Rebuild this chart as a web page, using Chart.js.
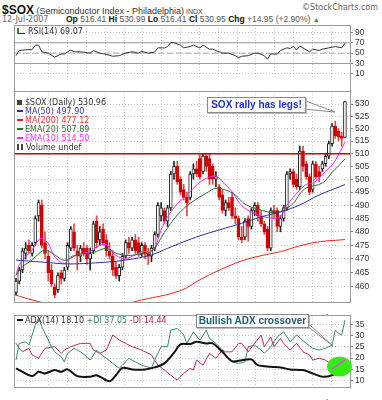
<!DOCTYPE html>
<html>
<head>
<meta charset="utf-8">
<script src="https://cdn.jsdelivr.net/npm/chart.js@4.4.1/dist/chart.umd.min.js"></script>
<style>
html,body{margin:0;padding:0;background:#fff;}
body{width:382px;height:400px;position:relative;overflow:hidden;font-family:"Liberation Sans",Arial,sans-serif;color:#222;}
canvas{position:absolute;left:0;}
.frame{position:absolute;left:14px;width:337px;border:1px solid #9a9a9a;box-sizing:border-box;pointer-events:none;}
.t{position:absolute;white-space:nowrap;}
.lg{position:absolute;font:8px "DejaVu Sans",sans-serif;line-height:9px;white-space:nowrap;}
.sw{display:inline-block;width:6px;height:2px;vertical-align:middle;margin-right:2px;position:relative;top:-1px;}
.box{position:absolute;background:#fff;border:1px solid #8a8a8a;box-shadow:1px 1px 0 #bbb;font:bold 10px "Liberation Sans",Arial,sans-serif;white-space:nowrap;text-align:center;}
</style>
</head>
<body>
<!-- header -->
<div class="t" style="left:2px;top:0px;"><span style="font:bold 12px 'Liberation Sans',Arial;color:#111">$SOX</span><span style="font:9px 'Liberation Sans',Arial;color:#333"> (Semiconductor Index - Philadelphia)</span><span style="font:7px 'Liberation Sans',Arial;color:#444"> INDX</span></div>
<div class="t" style="right:4px;top:3px;font:8px 'DejaVu Sans',sans-serif;color:#666">©StockCharts.com</div>
<div class="t" style="left:2px;top:15px;font:8px 'DejaVu Sans',sans-serif;color:#666">12-Jul-2007</div>
<div class="t" style="left:66px;top:14px;font:8.5px 'Liberation Sans',Arial;color:#555"><b style="color:#111">Op</b> 516.41 <b style="color:#111">Hi</b> 530.99 <b style="color:#111">Lo</b> 516.41 <b style="color:#111">Cl</b> 530.95 <b style="color:#111">Chg</b> +14.95 (+2.90%) <span style="color:#2a9a2a;font-size:7px">▲</span></div>

<canvas id="rsi" width="382" height="66" style="top:25px"></canvas>
<canvas id="price" width="382" height="224" style="top:91px"></canvas>
<canvas id="adx" width="382" height="85" style="top:315px"></canvas>

<div class="frame" style="top:25px;height:67px"></div>
<div class="frame" style="top:91px;height:212px"></div>
<div class="frame" style="top:315px;height:73px"></div>

<!-- legends -->
<div class="lg" style="left:17px;top:27px;color:#333"><span style="display:inline-block;width:6px;height:5px;border-left:2px solid #2a8a2a;border-bottom:1px solid #333;margin-right:3px"></span>RSI(14) 69.07</div>
<div class="lg" style="left:17px;top:98px">
  <div style="color:#333"><span style="display:inline-block;width:5px;height:5px;background:#444;margin-right:3px"></span>$SOX (Daily) 530.96</div>
  <div style="color:#3a3aa0"><span class="sw" style="background:#2e2e9a"></span>MA(50) 497.90</div>
  <div style="color:#ee3333"><span class="sw" style="background:#ee2222"></span>MA(200) 477.12</div>
  <div style="color:#2f6f35"><span class="sw" style="background:#2f6f35"></span>EMA(20) 507.89</div>
  <div style="color:#ff33ff"><span class="sw" style="background:#ff22ff"></span>EMA(10) 514.50</div>
  <div style="color:#333"><span style="display:inline-block;width:6px;height:6px;border-left:2px solid #444;border-right:2px solid #444;box-sizing:border-box;margin-right:3px"></span>Volume undef</div>
</div>
<div class="lg" style="left:17px;top:316px"><span class="sw" style="background:#111;height:2px"></span><span style="color:#333">ADX(14) 18.10 </span><span style="color:#2f8a55">+DI 37.05 </span><span style="color:#b0204a">-DI 14.44</span></div>

<!-- annotations -->
<svg width="382" height="400" style="position:absolute;left:0;top:0;pointer-events:none">
  <polygon points="298,98 335,112 303,109" fill="#fff" stroke="#8a8a8a" stroke-width="1"/>
  <polygon points="300,316 333,346 306,325" fill="#fff" stroke="#8a8a8a" stroke-width="1"/>
  <ellipse cx="339.5" cy="366.5" rx="12.5" ry="10" fill="#33ee11"/>
  <line x1="332" y1="369" x2="345" y2="360" stroke="#ff33ff" stroke-width="1.5"/>
</svg>
<div class="box" style="left:207px;top:97px;width:97px;height:14px;line-height:14px;color:#1c2fd0">SOX rally has legs!</div>
<div class="box" style="left:196px;top:314px;width:111px;height:12px;line-height:12px;color:#1d5e72">Bullish ADX crossover</div>

<script>
// ---------- data ----------
const monthIdx    = [10, 32, 52, 74, 95];
const monthLabels = ['Mar', 'Apr', 'May', 'Jun', 'Jul'];

const opens  = [458,462,466,472,475,472,476,486,490,476, 471,466,460,459,465,463,467,474,480,473,
                471,474,474,470,473,484,477,481,477,473, 471,467,464,467,471,476,474,477,476,472,
                475,472,471,474,479,486,488,484,489,502, 505,500,496,493,493,502,504,508,503,509,
                508,505,500,497,494,488,491,493,486,485, 478,478,485,482,488,490,486,483,481,474,
                488,488,482,485,489,502,503,500,497,511, 506,501,496,506,503,504,506,509,514,521,
                519,517,516.41];
const highs  = [463,467,474,476,477,476,486,492,492,480, 473,468,461,465,466,467,476,482,483,475,
                475,476,475,474,484,486,482,483,479,476, 473,469,468,472,477,478,478,479,478,476,
                476,474,475,480,491,491,489,490,503,507, 507,501,498,495,503,506,507,510,510,510,
                510,506,503,498,496,492,493,495,489,486, 482,485,486,489,491,491,488,484,482,489,
                490,489,486,490,503,504,504,502,513,513, 507,502,507,507,505,507,510,515,522,523,
                520,518.5,530.99];
const lows   = [457,461,465,470,472,471,475,484,474,470, 462,460,456,458,461,462,466,473,473,466,
                469,471,468,466,472,474,475,475,471,470, 464,463,462,466,470,472,473,472,471,471,
                470,468,469,473,478,484,483,482,488,500, 498,494,492,486,492,500,501,500,502,503,
                498,498,497,492,487,486,488,485,483,477, 476,477,476.5,481,486,484,482,479,473,473,
                485,480,480,484,488,500,497,496,496,503, 500,494,495,500,499,503,505,508,513,516,
                515,513,516.41];
const closes = [462,466,473,474,473,475,485,491,475,472, 465,461,457,464,463,466,475,481,474,471,
                474,472,470,472,483,476,480,476,473,471, 466,464,467,471,476,474,477,473,472,475,
                472,471,474,479,490,489,484,489,502,505, 499,495,493,491,502,504,502,501,509,505,
                500,500,501,493,488,491,489,486,485,478, 477,484,482,488,490,486,483,480,474,488,
                487,482,485,489,502,503,498,497,511,505, 501,495,506,501,501,506,509,514,521,517,
                516.5,516,530.95];

const levelLine = 510;

const ma200Idx = [0, 5, 11, 20, 30, 39, 51, 57, 63, 70, 76, 82, 88, 94, 102];
const ma200Val = [457, 455.3, 453.8, 452.6, 453, 455.3, 458.6, 462.5, 465.9, 469.3, 471.2, 472.7, 474.8, 476.3, 477.12];

const ma50Idx = [0, 10, 16, 26, 34, 42, 47, 52, 57, 63, 70, 76, 82, 88, 94, 102];
const ma50Val = [469.6, 468.7, 468.2, 468.7, 469.6, 471.5, 473.9, 476.3, 478.5, 480.7, 483.2, 485.6, 487.5, 490.1, 493.9, 497.9];

const ema20Idx = [0, 2, 5, 6, 9, 12, 15, 19, 24, 28, 31, 34, 37, 42, 46, 50, 54, 59, 62, 65, 68, 71, 75, 78, 81, 83, 86, 88, 90, 95, 98, 102];
const ema20Val = [464.2, 467.2, 469.6, 470.8, 473.3, 471.5, 469.5, 471.5, 472.4, 473.9, 472.1, 471.3, 471.5, 472.8, 479.7, 486.3, 490.7, 494.6, 496.5, 495.8, 493.9, 490.4, 488.5, 487.5, 487.2, 488.2, 490.7, 494.3, 496.6, 498.5, 502.6, 507.89];

const ema10Idx = [0, 1, 3, 5, 7, 8, 10, 12, 15, 17, 19, 21, 23, 25, 28, 29, 31, 34, 37, 39, 41, 43, 45, 47, 50, 53, 56, 59, 62, 64, 67, 69, 71, 74, 77, 80, 82, 84, 88, 90, 92, 94, 96, 98, 100, 102];
const ema10Val = [464, 467.8, 470.8, 473.3, 477.0, 477.6, 475.7, 470.8, 468.4, 470.8, 471.5, 472.1, 472.7, 474.5, 475.4, 473.9, 471.3, 470.2, 471.5, 472.7, 472.7, 473.9, 480.7, 485.6, 490.5, 493.9, 497.7, 500.3, 501.2, 499.0, 495.2, 491.3, 488.8, 486.9, 485.6, 485.1, 485.6, 490.0, 495.8, 498.0, 498.4, 500.4, 503.0, 505.5, 509.5, 514.5];

const rsiIdx = [0,1,3,5,6,7,8,10,12,13,14,15,16,17,18,20,21,23,24,26,28,30,32,34,36,38,39,41,43,44,46,47,48,49,51,52,54,55,57,58,60,61,63,64,66,68,69,70,72,74,75,77,78,79,81,82,84,85,86,87,88,91,92,94,95,97,99,101,102];
const rsiVal = [45,55,56.6,56.6,65.3,65.3,52.6,50,42.3,45,48.5,48,52.6,56,52.6,52.6,52,50,55,50,47.4,44,45,50,52.6,50,53.6,50,52,60.2,60,62.7,70.4,70,65.3,60.2,62.7,65.3,60.2,65.3,57.6,57.6,52.6,50,50,45,41.3,44,45,50,50,45,38.3,48.5,48,55,60.2,59,62.7,56,63.6,52.6,57.6,55,57.6,60.2,62.7,60.2,69.07];
const rsiLevels = [70, 50, 30];

const adxIdx = [0,1,5,7,9,12,14,16,19,23,25,29,31,33,36,40,43,46,49,51,54,56,59,61,64,67,70,73,75,79,82,85,89,92,95,98,100,102];
const adxVal = [15.4,14.6,11.9,13.8,13.1,14.6,13.8,14.9,11.9,11.6,12.3,9.6,12.3,15.6,14.9,14.9,15.8,17.6,22.4,26.2,26.3,27.3,26.6,26.6,22.8,18.6,19.0,19.4,16.8,16.1,15.8,14.9,14.6,13.1,11.6,12.3,14.1,18.1];

const pdiIdx = [0,1,3,4,6,7,8,11,12,14,15,16,18,20,22,23,25,26,28,30,32,33,35,37,39,42,43,45,47,48,50,52,53,55,57,59,60,62,64,65,67,69,71,72,74,76,77,79,81,83,85,87,90,92,94,96,98,99,100,101,102];
const pdiVal = [19.1,26.6,27.3,25.8,34.9,37.9,34.1,25.1,22.8,20.6,18.3,22.1,24.4,22.8,20.6,19.1,23.6,22.1,19.9,17.6,15.4,16.8,19.9,18.3,16.8,15.4,19.1,25.1,25.1,32.6,33.3,30.4,26.6,31.8,28.0,32.6,28.8,26.6,23.6,21.4,18.3,17.6,18.3,25.1,25.8,23.6,22.1,25.1,29.5,31.8,27.3,30.4,26.6,24.4,23.6,24.4,25.8,32.6,31.1,30.4,37.05];

const mdiIdx = [0,1,2,4,5,7,9,12,14,15,17,20,23,24,26,28,30,32,34,36,39,42,44,46,48,50,52,54,55,56,58,60,62,64,65,67,69,70,72,74,76,77,79,80,82,83,85,87,89,91,92,94,96,98,100,102];
const mdiVal = [26.6,24.4,22.8,24.4,21.4,19.9,24.4,25.1,22.1,23.6,25.1,26.6,26.6,23.6,22.1,23.6,30.4,28.1,26.6,25.1,23.6,21.4,16.8,14.6,12.3,10.1,13.1,15.4,14.6,19.1,16.8,22.1,19.9,23.6,22.8,22.8,26.6,26.6,22.8,26.6,30.4,25.1,29.5,25.1,28.8,26.6,23.6,26.6,22.8,21.4,19.1,19.9,19.1,16.8,17.6,14.44];

// ---------- layout / style ----------
const X_MIN = -0.62, X_MAX = 103.57;     // plot spans x=14..350
const FONT = "'Liberation Sans', Arial, sans-serif";
const GRID = '#c9c9c9';
const RED = '#d40000';

Chart.defaults.animation = false;
Chart.defaults.events = [];
Chart.defaults.plugins.legend.display = false;
Chart.defaults.plugins.tooltip.enabled = false;

function pts(ix, vals) { return ix.map((x, k) => ({ x: x, y: vals[k] })); }
function flat(v) { return [{ x: X_MIN, y: v }, { x: X_MAX, y: v }]; }

function gridAxis() {
  return {
    type: 'linear', min: -0.853, max: 17, position: 'bottom', offset: false,
    afterBuildTicks: s => { const t = []; for (let k = 0; k < 17; k++) t.push({ value: k }); s.ticks = t; },
    ticks: { display: false },
    grid: { color: GRID, drawTicks: false, offset: false },
    border: { display: false, dash: [1, 2] },
    afterFit: s => { s.height = 0; s.paddingLeft = 0; s.paddingRight = 0; }
  };
}
function monthAxis(show) {
  return {
    type: 'linear', min: X_MIN, max: X_MAX, position: 'bottom', offset: false, display: show,
    afterBuildTicks: s => { s.ticks = monthIdx.map(v => ({ value: v })); },
    ticks: { callback: v => monthLabels[monthIdx.indexOf(v)], font: { family: FONT, size: 9 }, color: '#333', padding: 3, autoSkip: false, maxRotation: 0 },
    grid: { display: false, offset: false },
    border: { display: false },
    afterFit: s => { s.height = 13; s.paddingLeft = 0; s.paddingRight = 0; }
  };
}
function valueAxis(type, min, max, ticks) {
  return {
    type: type, position: 'right', min: min, max: max, beginAtZero: false,
    afterBuildTicks: s => { s.ticks = ticks.map(v => ({ value: v })); },
    ticks: { callback: v => String(v), font: { family: FONT, size: 8.5 }, color: '#333', padding: 2, autoSkip: false },
    grid: { color: GRID, tickColor: '#888', tickLength: 3 },
    border: { display: false, dash: [1, 2] },
    afterFit: s => { s.width = 32; s.paddingTop = 0; s.paddingBottom = 0; }
  };
}
const layout = { padding: { left: 14, right: 0, top: 0, bottom: 0 } };

// ---------- RSI ----------
new Chart(document.getElementById('rsi'), {
  type: 'line',
  data: { datasets: [
    { data: pts(rsiIdx, rsiVal), borderColor: '#333', borderWidth: 1, pointRadius: 0, tension: 0, order: 1 },
    { data: flat(rsiLevels[0]), borderColor: '#9a9a9a', borderWidth: 1, pointRadius: 0, order: 3 },
    { data: flat(rsiLevels[1]), borderColor: '#a8a8a8', borderWidth: 1, borderDash: [6, 3], pointRadius: 0, order: 3 },
    { data: flat(rsiLevels[2]), borderColor: '#9a9a9a', borderWidth: 1, pointRadius: 0, order: 3 }
  ]},
  options: {
    responsive: false, layout: layout,
    scales: { x: monthAxis(false), xg: gridAxis(), y: valueAxis('linear', 1.94, 104.3, [10, 30, 50, 70, 90]) }
  }
});

// ---------- Price ----------
const idx = closes.map((_, i) => i);
const isUp = i => closes[i] >= opens[i];
new Chart(document.getElementById('price'), {
  type: 'bar',
  data: { datasets: [
    { type: 'line', data: flat(levelLine), borderColor: '#cc0000', borderWidth: 1.5, pointRadius: 0, order: 0 },
    { type: 'line', data: pts(ma200Idx, ma200Val), borderColor: '#ee2222', borderWidth: 1, pointRadius: 0, tension: 0.4, order: 1 },
    { type: 'line', data: pts(ma50Idx, ma50Val), borderColor: '#2e2e9a', borderWidth: 1, pointRadius: 0, tension: 0.4, order: 1 },
    { type: 'line', data: pts(ema20Idx, ema20Val), borderColor: '#2f6f35', borderWidth: 1, pointRadius: 0, tension: 0.35, order: 1 },
    { type: 'line', data: pts(ema10Idx, ema10Val), borderColor: '#ff22ff', borderWidth: 1, pointRadius: 0, tension: 0.35, order: 1 },
    { type: 'bar', data: idx.map(i => ({ x: i, y: [lows[i], highs[i]] })),
      backgroundColor: idx.map(i => isUp(i) ? '#222' : '#e04848'), barThickness: 1, grouped: false, order: 6 },
    { type: 'bar', data: idx.map(i => ({ x: i, y: [Math.min(opens[i], closes[i]), Math.max(opens[i], closes[i])] })),
      backgroundColor: idx.map(i => isUp(i) ? '#ffffff' : RED), borderColor: idx.map(i => isUp(i) ? '#222' : RED),
      borderWidth: 1, borderSkipped: false, barThickness: 3, grouped: false, minBarLength: 1, order: 5 }
  ]},
  options: {
    responsive: false, layout: layout,
    scales: { x: monthAxis(true), xg: gridAxis(),
      y: valueAxis('logarithmic', 454.59, 535.37, [460, 465, 470, 475, 480, 485, 490, 495, 500, 505, 510, 515, 520, 525, 530]) }
  }
});

// ---------- ADX ----------
new Chart(document.getElementById('adx'), {
  type: 'line',
  data: { datasets: [
    { data: pts(pdiIdx, pdiVal), borderColor: '#3a8a5c', borderWidth: 1, pointRadius: 0, tension: 0, order: 2 },
    { data: pts(mdiIdx, mdiVal), borderColor: '#c0285a', borderWidth: 1, pointRadius: 0, tension: 0, order: 2 },
    { data: pts(adxIdx, adxVal), borderColor: '#111', borderWidth: 2, pointRadius: 0, tension: 0.3, order: 1 }
  ]},
  options: {
    responsive: false, layout: layout,
    scales: { x: monthAxis(true), xg: gridAxis(), y: valueAxis('linear', 6.99, 39.36, [10, 15, 20, 25, 30, 35]) }
  }
});
</script>
</body>
</html>
